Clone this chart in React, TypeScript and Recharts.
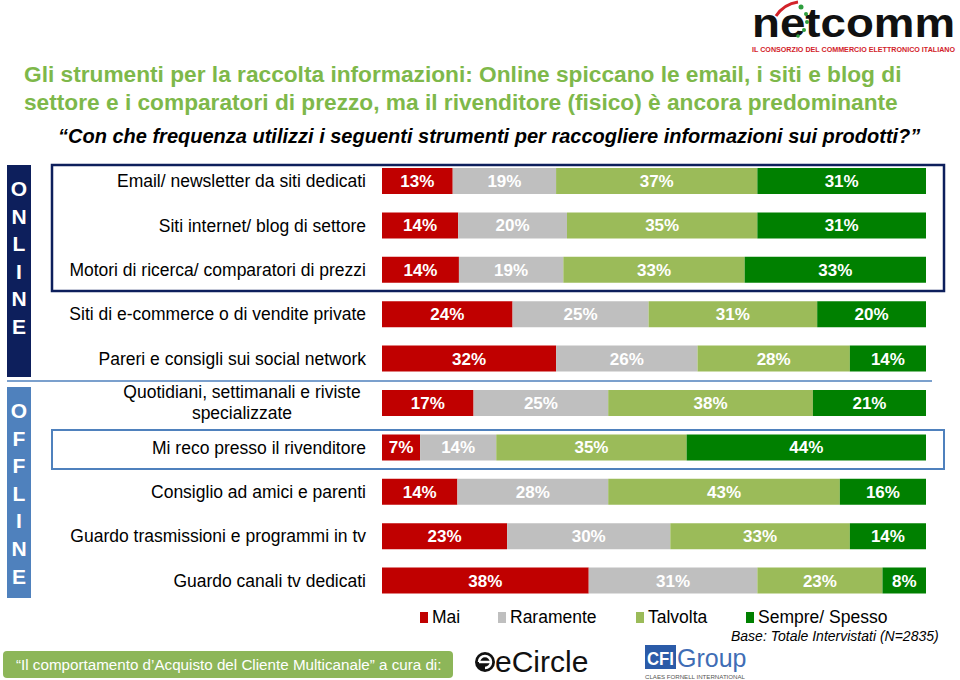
import React from 'react';
import { BarChart, Bar, XAxis, YAxis, LabelList } from 'recharts';

const categories = [
  'Email/ newsletter da siti dedicati',
  'Siti internet/ blog di settore',
  'Motori di ricerca/ comparatori di prezzi',
  'Siti di e-commerce o di vendite private',
  'Pareri e consigli sui social network',
  'Quotidiani,  settimanali e riviste\nspecializzate',
  'Mi reco presso il rivenditore',
  'Consiglio ad amici e parenti',
  'Guardo trasmissioni e programmi in tv',
  'Guardo canali tv dedicati',
];
const mai = [13, 14, 14, 24, 32, 17, 7, 14, 23, 38];
const raramente = [19, 20, 19, 25, 26, 25, 14, 28, 30, 31];
const talvolta = [37, 35, 33, 31, 28, 38, 35, 43, 33, 23];
const sempre = [31, 31, 33, 20, 14, 21, 44, 16, 14, 8];

const seriesKeys = ['mai', 'raramente', 'talvolta', 'sempre'];
const seriesNames = ['Mai', 'Raramente', 'Talvolta', 'Sempre/ Spesso'];
const seriesColors = ['#C00000', '#BFBFBF', '#9BBB59', '#008000'];

const onlineLetters = ['O', 'N', 'L', 'I', 'N', 'E'];
const offlineLetters = ['O', 'F', 'F', 'L', 'I', 'N', 'E'];

const data = categories.map((name, i) => ({
  name,
  mai: mai[i],
  raramente: raramente[i],
  talvolta: talvolta[i],
  sempre: sempre[i],
}));

const FONT = '"Liberation Sans", Arial, Helvetica, sans-serif';

const CategoryTick = (props: any) => {
  const { x, y, payload } = props;
  const lines: string[] = String(payload.value).split('\n');
  if (lines.length > 1) {
    return (
      <text x={x - 124} y={y} textAnchor="middle" fontSize={17.5} fill="#000" fontFamily={FONT}>
        {lines.map((l, i) => (
          <tspan key={i} x={x - 124} dy={i === 0 ? -5 : 21}>
            {l}
          </tspan>
        ))}
      </text>
    );
  }
  return (
    <text x={x} y={y} dy={6} textAnchor="end" fontSize={17.5} fill="#000" fontFamily={FONT}>
      {lines[0]}
    </text>
  );
};

const Decorations = () => (
  <svg width={960} height={680} style={{ position: 'absolute', left: 0, top: 0 }} fontFamily={FONT}>
    {/* netcomm logo */}
    <text x={752} y={37} fontSize={40} fontWeight="bold" fill="#111" textLength={203} lengthAdjust="spacingAndGlyphs">netcomm</text>
    <path d="M776 16 Q784 4 798 2" stroke="#D2232A" strokeWidth={3} fill="none" />
    <circle cx={801} cy={7} r={2.5} fill="#2E9E3E" />
    <circle cx={806} cy={14} r={2} fill="#2E9E3E" />
    <circle cx={807} cy={22} r={2} fill="#2E9E3E" />
    <circle cx={804} cy={30} r={2} fill="#2E9E3E" />
    <circle cx={798} cy={36} r={1.8} fill="#2E9E3E" />
    <text x={752} y={52} fontSize={6.5} fontWeight="bold" fill="#D2232A" textLength={203} lengthAdjust="spacingAndGlyphs">
      IL CONSORZIO DEL COMMERCIO ELETTRONICO ITALIANO
    </text>

    {/* titles */}
    <text x={24} y={82} fontSize={22.7} fontWeight="bold" fill="#7EB84A">
      Gli strumenti per la raccolta informazioni: Online spiccano le email, i siti e blog di
    </text>
    <text x={24} y={110} fontSize={22.7} fontWeight="bold" fill="#7EB84A">
      settore e i comparatori di prezzo, ma il rivenditore (fisico) è ancora predominante
    </text>
    <text x={58} y={143} fontSize={20} fontWeight="bold" fontStyle="italic" fill="#000">
      “Con che frequenza utilizzi i seguenti strumenti per raccogliere informazioni sui prodotti?”
    </text>

    {/* ONLINE / OFFLINE bands */}
    <rect x={7} y={165} width={24} height={212} fill="#0D1F5C" />
    {onlineLetters.map((l, i) => (
      <text key={'on' + i} x={19} y={196 + i * 27.6} textAnchor="middle" fontSize={21} fontWeight="bold" fill="#fff">
        {l}
      </text>
    ))}
    <line x1={7} y1={381} x2={932} y2={381} stroke="#4F81BD" strokeWidth={1.5} />
    <rect x={7} y={387} width={24} height={211} fill="#4F81BD" />
    {offlineLetters.map((l, i) => (
      <text key={'off' + i} x={19} y={418 + i * 27.6} textAnchor="middle" fontSize={21} fontWeight="bold" fill="#fff">
        {l}
      </text>
    ))}

    {/* highlight boxes */}
    <rect x={52} y={165} width={892} height={126} fill="none" stroke="#0D1F5C" strokeWidth={2.5} />
    <rect x={52} y={430} width={892} height={39} fill="none" stroke="#4F81BD" strokeWidth={2} />

    {/* legend */}
    {(() => {
      const xs = [420, 498, 636, 746];
      return seriesNames.map((n, i) => (
        <g key={n}>
          <rect x={xs[i]} y={612} width={8} height={11} fill={seriesColors[i]} />
          <text x={xs[i] + 12} y={623} fontSize={17.5} fill="#000">{n}</text>
        </g>
      ));
    })()}

    <text x={731} y={641} fontSize={14} fontStyle="italic" fill="#000">Base: Totale Intervistati (N=2835)</text>

    {/* footer */}
    <rect x={3} y={651} width={450} height={27} rx={4} fill="#8DB659" />
    <text x={16} y={670} fontSize={15.2} fill="#fff">“Il comportamento d’Acquisto del Cliente Multicanale” a cura di:</text>

    {/* eCircle logo */}
    <circle cx={485} cy={662} r={10} fill="#111" />
    <path d="M479 662 a6 6 0 1 1 6 6" stroke="#fff" strokeWidth={2.5} fill="none" />
    <line x1={479} y1={662} x2={491} y2={662} stroke="#fff" strokeWidth={2.5} />
    <text x={495} y={672} fontSize={30} fill="#111">eCircle</text>

    {/* CFI Group logo */}
    <rect x={645} y={645} width={31} height={24} fill="#2B5BA8" />
    <text x={647} y={665} fontSize={18} fontWeight="bold" fill="#fff" textLength={27} lengthAdjust="spacingAndGlyphs">CFI</text>
    <text x={677} y={667} fontSize={25} fill="#3F6DB5">Group</text>
    <text x={645} y={679} fontSize={5.5} fill="#555" textLength={100} lengthAdjust="spacingAndGlyphs">CLAES FORNELL INTERNATIONAL</text>
  </svg>
);

export default function App() {
  return (
    <div style={{ position: 'absolute', left: 0, top: 0, width: 960, height: 680, background: '#fff', fontFamily: FONT }}>
      <Decorations />
      <div style={{ position: 'absolute', left: 0, top: 0 }}>
        <BarChart
          width={960}
          height={680}
          data={data}
          layout="vertical"
          stackOffset="expand"
          margin={{ top: 159, right: 34, bottom: 77, left: 0 }}
        >
          <XAxis type="number" hide domain={[0, 1]} />
          <YAxis
            type="category"
            dataKey="name"
            width={382}
            axisLine={false}
            tickLine={false}
            tickSize={0}
            tickMargin={16}
            interval={0}
            tick={<CategoryTick />}
          />
          {seriesKeys.map((k, i) => (
            <Bar key={k} dataKey={k} name={seriesNames[i]} stackId="a" fill={seriesColors[i]} barSize={26} isAnimationActive={false}>
              <LabelList
                dataKey={k}
                position="center"
                formatter={(v: any) => `${v}%`}
                fill="#fff"
                fontSize={17}
                fontWeight="bold"
                fontFamily={FONT}
              />
            </Bar>
          ))}
        </BarChart>
      </div>
    </div>
  );
}
